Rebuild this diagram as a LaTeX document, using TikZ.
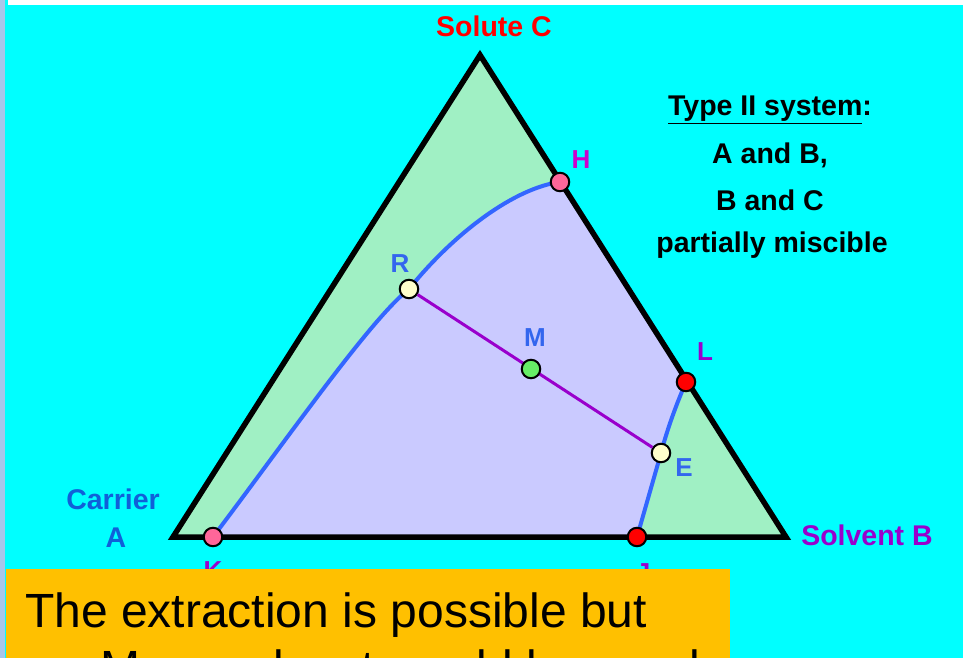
\documentclass[tikz,border=0pt]{standalone}
\usepackage{fontspec}
\setmainfont{Liberation Sans}
\definecolor{bgcyan}{HTML}{00FFFF}
\definecolor{stripblue}{HTML}{A8C6EA}
\definecolor{mint}{HTML}{A0F0C4}
\definecolor{lav}{HTML}{CACAFF}
\definecolor{curveblue}{HTML}{3366FF}
\definecolor{tieviolet}{HTML}{9900CC}
\definecolor{lblblue}{HTML}{3366EE}
\definecolor{carrierblue}{HTML}{1060D8}
\definecolor{lblmag}{HTML}{CC00CC}
\definecolor{lblpurple}{HTML}{9900CC}
\definecolor{ptpink}{HTML}{FF6699}
\definecolor{ptcream}{HTML}{FFFFCC}
\definecolor{ptgreen}{HTML}{66EE66}
\definecolor{ptred}{HTML}{FF0000}
\definecolor{boxorange}{HTML}{FFC000}
\tikzset{
  ptdot/.style={circle, draw=black, line width=2pt, minimum size=18.5pt, inner sep=0pt},
  lbl/.style={font=\fontsize{26}{30}\selectfont\bfseries, inner sep=0pt},
  biglbl/.style={font=\fontsize{28.5}{32}\selectfont\bfseries, inner sep=0pt},
  infotxt/.style={font=\fontsize{28.5}{32}\selectfont\bfseries, inner sep=0pt, text=black},
  binodal/.style={draw=curveblue, line width=4pt, line cap=round},
  tieline/.style={draw=tieviolet, line width=3pt},
  side/.style={draw=black, line width=5.5pt, line join=miter}
}
\begin{document}
\begin{tikzpicture}[x=1pt,y=-1pt]
\useasboundingbox (0,0) rectangle (963,658);
\fill[bgcyan] (0,0) rectangle (963,658);
\fill[stripblue] (0,0) rectangle (5,658);
\fill[white] (8,0) rectangle (963,5);

% corners and points
\coordinate (A) at (173,537);
\coordinate (B) at (786,537);
\coordinate (C) at (480,55);
\coordinate (k) at (213,537);
\coordinate (r) at (409,289);
\coordinate (h) at (560,182);
\coordinate (m) at (531,369);
\coordinate (l) at (686,382);
\coordinate (e) at (661,453);
\coordinate (j) at (637,537);

% fills
\fill[mint] (A) -- (B) -- (C) -- cycle;
\fill[lav] (k) .. controls (290,435) and (370,320) .. (r)
  .. controls (455,232) and (515,188) .. (h) -- (l)
  .. controls (676,405) and (667,430) .. (e) -- (j) -- cycle;

% binodal curve
\draw[binodal] (k) .. controls (290,435) and (370,320) .. (r)
  .. controls (455,232) and (515,188) .. (h);
\draw[binodal] (l) .. controls (676,405) and (667,430) .. (e) -- (j);

% triangle
\draw[side] (A) -- (B) -- (C) -- cycle;

% points
\node[ptdot, fill=ptpink] (K) at (k) {};
\node[ptdot, fill=ptcream] (R) at (r) {};
\node[ptdot, fill=ptpink] (H) at (h) {};
\node[ptdot, fill=ptred] (L) at (l) {};
\node[ptdot, fill=ptcream] (E) at (e) {};
\node[ptdot, fill=ptred] (J) at (j) {};

% tie line
\draw[tieline] (R) -- (E);
\node[ptdot, fill=ptgreen] (M) at (m) {};

% point labels
\node[lbl, text=lblmag] (Hl) at (581,160) {H};
\node[lbl, text=lblblue] (Rl) at (400,264) {R};
\node[lbl, text=lblblue] (Ml) at (535,338) {M};
\node[lbl, text=lblpurple] (Ll) at (705,352) {L};
\node[lbl, text=lblblue] (El) at (684,468) {E};
\node[lbl, text=lblpurple] (Kl) at (213,571) {K};
\node[lbl, text=lblpurple] (Jl) at (643,573) {J};

% corner labels
\node[biglbl, text=red] (solute) at (494,26) {Solute C};
\node[biglbl, text=carrierblue] (carrier) at (113,499) {Carrier};
\node[biglbl, text=carrierblue] (carrierA) at (116,538) {A};
\node[biglbl, text=lblpurple] (solvent) at (867,535) {Solvent B};

% info text
\node[infotxt] (t1) at (770,110) {\underline{Type II system}:};
\node[infotxt] (t2) at (770,155) {A and B,};
\node[infotxt] (t3) at (770,200) {B and C};
\node[infotxt] (t4) at (772,245) {partially miscible};

% orange box
\fill[boxorange] (6,569) rectangle (730,658);
\begin{scope}
\clip (6,569) rectangle (730,658);
\node[anchor=base west, inner sep=0pt, font=\fontsize{48}{56}\selectfont] (b1) at (25,627) {The extraction is possible but};
\node[anchor=base west, inner sep=0pt, font=\fontsize{48}{56}\selectfont] (b2) at (100,684) {More solvent would be needed};
\end{scope}
\end{tikzpicture}
\end{document}
